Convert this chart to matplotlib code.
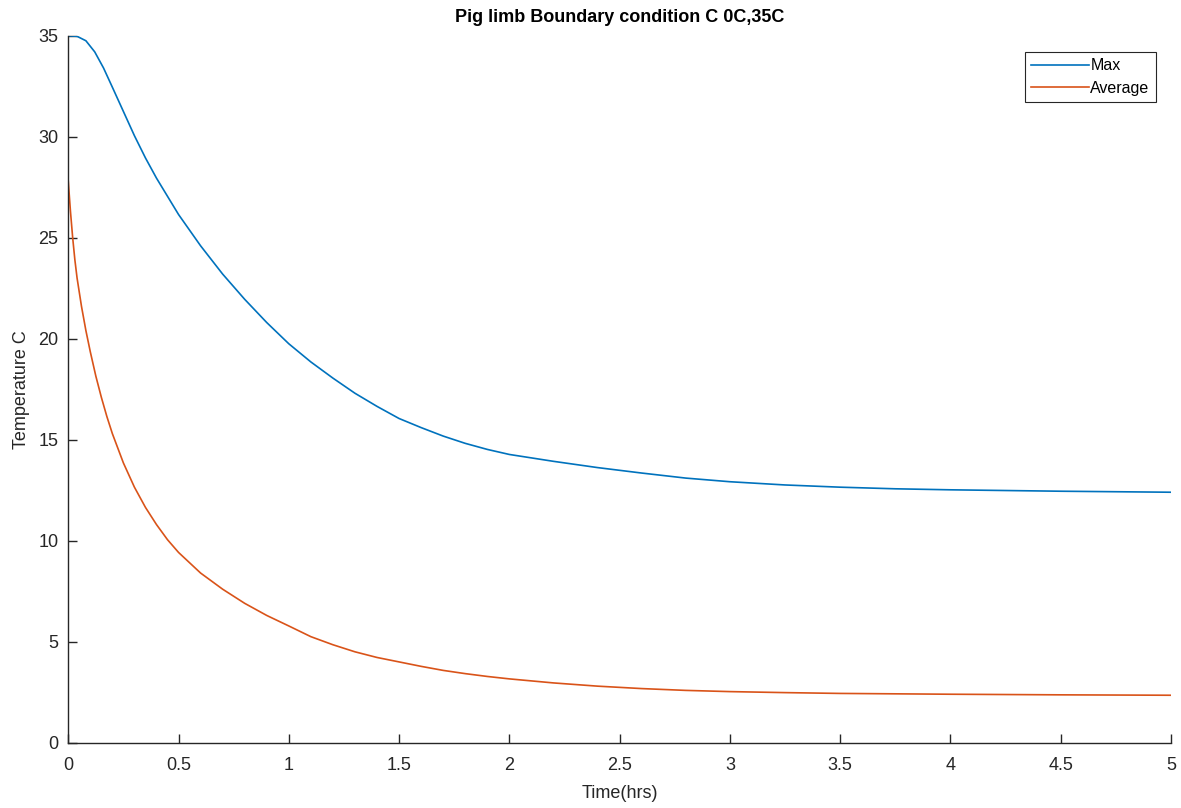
import matplotlib
matplotlib.use('Agg')
import matplotlib.pyplot as plt

plt.rcParams['font.family'] = ['Liberation Sans', 'DejaVu Sans']

# values
time_max = [0, 0.04, 0.08, 0.12, 0.16, 0.2, 0.25, 0.3, 0.35, 0.4, 0.5, 0.6, 0.7, 0.8, 0.9,
            1.0, 1.1, 1.2, 1.3, 1.4, 1.5, 1.6, 1.7, 1.8, 1.9, 2.0, 2.2, 2.4, 2.6, 2.8, 3.0,
            3.25, 3.5, 3.75, 4.0, 4.5, 5.0]
temp_max = [35, 34.97, 34.75, 34.2, 33.4, 32.45, 31.25, 30.05, 28.95, 27.95, 26.15, 24.6,
            23.2, 21.95, 20.8, 19.75, 18.85, 18.05, 17.3, 16.65, 16.05, 15.6, 15.18, 14.82,
            14.52, 14.27, 13.93, 13.62, 13.35, 13.1, 12.92, 12.76, 12.65, 12.57, 12.52,
            12.45, 12.4]

time_avg = [0, 0.01, 0.02, 0.03, 0.04, 0.06, 0.08, 0.1, 0.125, 0.15, 0.175, 0.2, 0.25, 0.3,
            0.35, 0.4, 0.45, 0.5, 0.6, 0.7, 0.8, 0.9, 1.0, 1.1, 1.2, 1.3, 1.4, 1.5, 1.6, 1.7,
            1.8, 1.9, 2.0, 2.2, 2.4, 2.6, 2.8, 3.0, 3.25, 3.5, 4.0, 4.5, 5.0]
temp_avg = [27.8, 26.3, 25.0, 23.9, 23.0, 21.6, 20.4, 19.35, 18.15, 17.1, 16.15, 15.3, 13.85,
            12.65, 11.65, 10.8, 10.05, 9.42, 8.4, 7.6, 6.9, 6.3, 5.78, 5.25, 4.85, 4.5, 4.22,
            4.0, 3.78, 3.58, 3.42, 3.28, 3.16, 2.96, 2.8, 2.68, 2.59, 2.53, 2.48, 2.44, 2.4,
            2.37, 2.35]

xticks = [0, 0.5, 1, 1.5, 2, 2.5, 3, 3.5, 4, 4.5, 5]
xticklabels = ['0', '0.5', '1', '1.5', '2', '2.5', '3', '3.5', '4', '4.5', '5']
yticks = [0, 5, 10, 15, 20, 25, 30, 35]

fig = plt.figure(figsize=(11.81, 8.08), dpi=100)
ax = fig.add_axes([0.0578, 0.0808, 0.9337, 0.875])

ax.plot(time_max, temp_max, color='#0072BD', lw=1.2, label='Max')
ax.plot(time_avg, temp_avg, color='#D95319', lw=1.2, label='Average')

ax.set_xlim(0, 5)
ax.set_ylim(0, 35)
ax.set_xticks(xticks)
ax.set_xticklabels(xticklabels)
ax.set_yticks(yticks)

for side in ['top', 'right']:
    ax.spines[side].set_visible(False)
for side in ['left', 'bottom']:
    ax.spines[side].set_color('#262626')
    ax.spines[side].set_linewidth(1.0)
ax.tick_params(direction='in', length=6.5, width=1.0, colors='#262626', labelsize=13)
ax.tick_params(axis='x', pad=10)
ax.tick_params(axis='y', pad=7)

ax.set_title('Pig limb Boundary condition C 0C,35C', fontsize=13, fontweight='bold', pad=10)
ax.set_xlabel('Time(hrs)', fontsize=13, color='#262626', labelpad=8)
ax.set_ylabel('Temperature C', fontsize=13, color='#262626', labelpad=6)

leg = ax.legend(loc='upper right', bbox_to_anchor=(0.9865, 0.977), fontsize=11.5, fancybox=False,
                edgecolor='#262626', framealpha=1, handlelength=3.6, handletextpad=0.1,
                borderpad=0.4, labelspacing=0.45, borderaxespad=0)
leg.get_frame().set_linewidth(0.8)

fig.savefig('out.png', dpi=100)
